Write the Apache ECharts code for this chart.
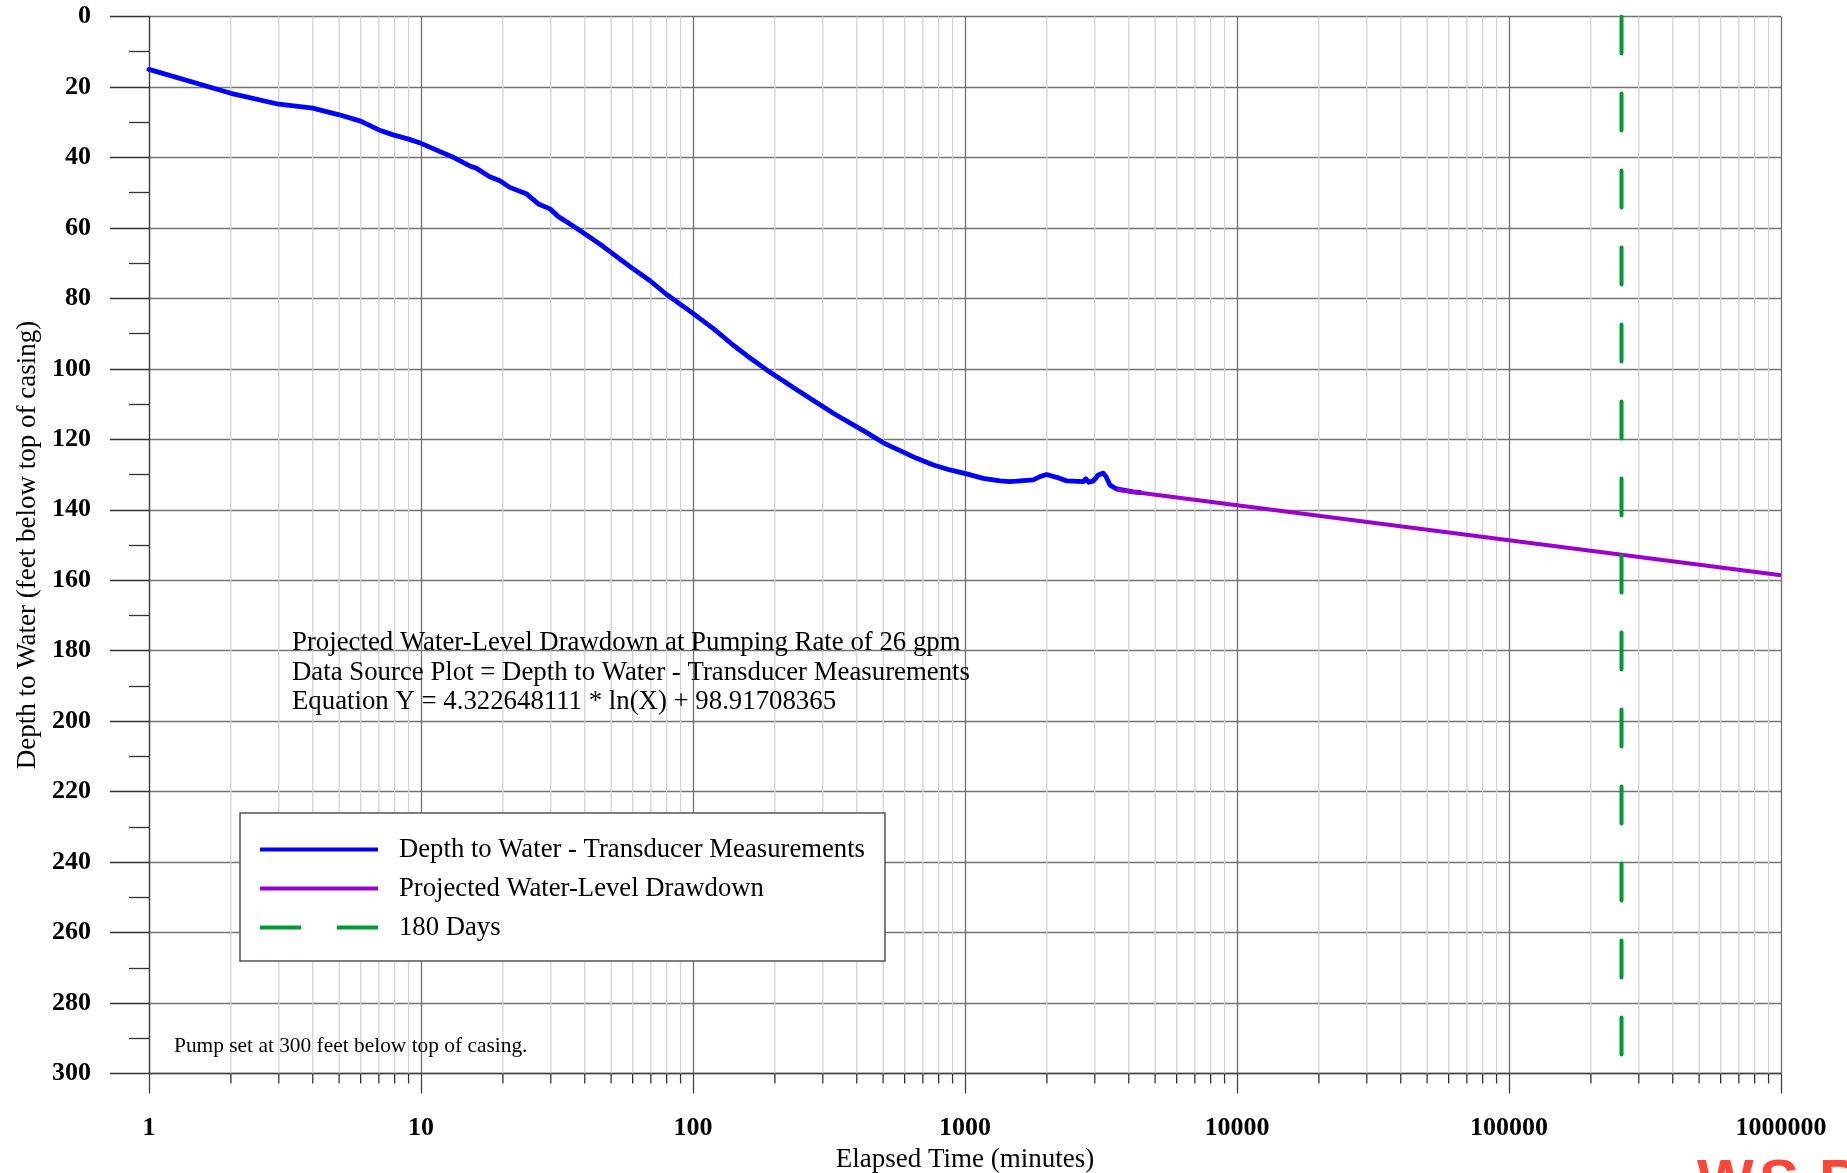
<!DOCTYPE html>
<html>
<head>
<meta charset="utf-8">
<title>Projected Water-Level Drawdown</title>
<script src="https://cdn.jsdelivr.net/npm/echarts@6/dist/echarts.min.js"></script>
<style>
  html, body { margin: 0; padding: 0; background: #fff; }
  #chart { width: 1847px; height: 1173px; }
</style>
</head>
<body>
<div id="chart"></div>
<script>
// Transducer record: elapsed time (minutes) and depth to water (feet below top of casing)
const measuredTime = [1, 2, 3, 4, 5, 6, 7, 7.9, 9, 10, 13, 15.1, 16, 17.9, 19.5, 21.2, 24.5, 27, 29.8, 32, 35.3,
  39.5, 46.8, 58.7, 69.5, 80, 99.7, 118.8, 140.7, 157.5, 186.6, 247, 328, 435, 501, 577, 664, 765, 881, 1014,
  1167, 1345, 1463, 1549, 1783, 1887, 1995, 2173, 2365, 2722, 2780, 2850, 2964, 3092, 3224, 3300, 3413, 3610,
  3662, 4157, 4397];
const measuredDepth = [15.0, 21.8, 24.9, 26.0, 27.9, 29.7, 32.2, 33.6, 34.8, 36.0, 39.8, 42.4, 43.1, 45.5, 46.6,
  48.5, 50.4, 53.2, 54.6, 56.8, 58.9, 61.4, 65.3, 71.0, 75.0, 78.9, 84.2, 88.6, 93.3, 96.2, 100.3, 106.5, 112.6,
  118.1, 121.0, 123.2, 125.4, 127.3, 128.7, 129.8, 131.1, 131.8, 132.0, 131.9, 131.5, 130.6, 130.0, 130.8, 131.8,
  132.0, 131.2, 132.2, 131.8, 130.1, 129.6, 130.6, 133.0, 134.1, 133.9, 134.9, 135.1];

// Projection from the fitted log trend (end points of the straight segment on the log axis)
const projectedTime = [3610, 1000000];
const projectedDepth = [134.3, 158.6];

// 180 days expressed in minutes
const marker180Time = [259200, 259200];
const marker180Depth = [0, 300];

const timeTickLabels = ['1', '10', '100', '1000', '10000', '100000', '1000000'];
const depthTickLabels = ['0', '20', '40', '60', '80', '100', '120', '140', '160', '180', '200', '220', '240',
  '260', '280', '300'];

const seriesNames = ['Depth to Water - Transducer Measurements', 'Projected Water-Level Drawdown', '180 Days'];

const noteLines = [
  'Projected Water-Level Drawdown at Pumping Rate of 26 gpm',
  'Data Source Plot = Depth to Water - Transducer Measurements',
  'Equation Y = 4.322648111 * ln(X) + 98.91708365'
];
const pumpNote = 'Pump set at 300 feet below top of casing.';

// intermediate log-cycle lines (2..9 within every decade)
const minorTimes = [];
for (let d = 0; d < 6; d++) {
  for (let m = 2; m <= 9; m++) minorTimes.push([m * Math.pow(10, d), 0]);
}

const zip = (xs, ys) => xs.map((x, i) => [x, ys[i]]);

const SERIF = 'Liberation Serif';

// legend swatches: solid bar and two-dash bar
const SOLID_ICON = 'path://M0,0H118V4H0Z';
const DASH_ICON = 'path://M0,0H41V4H0Z M77,0H118V4H77Z';

const chart = echarts.init(document.getElementById('chart'), null, { renderer: 'canvas' });

chart.setOption({
  backgroundColor: '#ffffff',
  animation: false,
  grid: { left: 149, right: 66, top: 16.5, bottom: 99.5, containLabel: false, outerBoundsMode: 'none' },
  xAxis: {
    type: 'log',
    logBase: 10,
    min: 1,
    max: 1000000,
    splitNumber: 6,
    name: 'Elapsed Time (minutes)',
    nameLocation: 'middle',
    nameGap: 67.5,
    nameTextStyle: { fontFamily: SERIF, fontSize: 27, color: '#000' },
    axisLine: { show: true, onZero: false, lineStyle: { color: '#444', width: 1.3 } },
    axisTick: { show: true, inside: false, length: 20, lineStyle: { color: '#444', width: 1.3 } },
    axisLabel: {
      margin: 42, fontFamily: SERIF, fontWeight: 'bold', fontSize: 26, color: '#000',
      formatter: (v, i) => timeTickLabels[i]
    },
    splitLine: { show: true, lineStyle: { color: '#737373', width: 1.3 } },
    minorTick: { show: false },
    minorSplitLine: { show: false }
  },
  yAxis: {
    type: 'value',
    inverse: true,
    min: 0,
    max: 300,
    interval: 20,
    name: 'Depth to Water (feet below top of casing)',
    nameLocation: 'middle',
    nameGap: 108,
    nameTextStyle: { fontFamily: SERIF, fontSize: 27, color: '#000' },
    axisLine: { show: true, onZero: false, lineStyle: { color: '#444', width: 1.3 } },
    axisTick: { show: true, inside: false, length: 39, lineStyle: { color: '#333', width: 1.3 } },
    minorTick: { show: true, splitNumber: 2, length: 20, lineStyle: { color: '#333', width: 1.3 } },
    minorSplitLine: { show: false },
    axisLabel: {
      margin: 58, fontFamily: SERIF, fontWeight: 'bold', fontSize: 26, color: '#000',
      formatter: (v, i) => depthTickLabels[i]
    },
    splitLine: { show: true, lineStyle: { color: '#737373', width: 1.3 } }
  },
  legend: {
    orient: 'vertical',
    left: 240,
    top: 813,
    padding: [23, 20, 20, 20],
    itemGap: 12,
    itemWidth: 118,
    itemHeight: 4,
    backgroundColor: '#ffffff',
    borderColor: '#555',
    borderWidth: 1.5,
    borderRadius: 0,
    selectedMode: false,
    textStyle: { fontFamily: SERIF, fontSize: 26.7, color: '#000', padding: [0, 0, 0, 16] },
    data: [
      { name: seriesNames[0], icon: SOLID_ICON },
      { name: seriesNames[1], icon: SOLID_ICON },
      { name: seriesNames[2], icon: DASH_ICON }
    ]
  },
  series: [
    {
      type: 'custom',
      name: 'minor-grid',
      silent: true,
      z: 1,
      clip: false,
      data: minorTimes,
      renderItem: (params, api) => {
        const v = api.value(0);
        const top = api.coord([v, 0]);
        const bot = api.coord([v, 300]);
        return {
          type: 'group',
          children: [
            { type: 'line', shape: { x1: top[0], y1: top[1], x2: bot[0], y2: bot[1] },
              style: { stroke: '#d3d3d3', lineWidth: 1.3 } },
            { type: 'line', shape: { x1: bot[0], y1: bot[1], x2: bot[0], y2: bot[1] + 10 },
              style: { stroke: '#333', lineWidth: 1.3 } }
          ]
        };
      }
    },
    {
      name: seriesNames[0],
      type: 'line',
      data: zip(measuredTime, measuredDepth),
      symbol: 'none',
      smooth: false,
      z: 3,
      lineStyle: { color: '#0000ff', width: 4.8, cap: 'round', join: 'round' },
      itemStyle: { color: '#0000ff' }
    },
    {
      name: seriesNames[1],
      type: 'line',
      data: zip(projectedTime, projectedDepth),
      symbol: 'none',
      z: 4,
      lineStyle: { color: '#9900cc', width: 4, cap: 'butt' },
      itemStyle: { color: '#9900cc' }
    },
    {
      name: seriesNames[2],
      type: 'line',
      data: zip(marker180Time, marker180Depth),
      symbol: 'none',
      z: 5,
      lineStyle: { color: '#009933', width: 4, type: [37, 40], cap: 'round' },
      itemStyle: { color: '#009933' }
    }
  ],
  graphic: [
    {
      type: 'text',
      left: 292,
      top: 628.5,
      z: 10,
      style: {
        text: noteLines.join('\n'),
        fontFamily: SERIF,
        fontSize: 26.8,
        lineHeight: 29.5,
        fill: '#000'
      }
    },
    {
      type: 'text',
      left: 174,
      top: 1036,
      z: 10,
      style: { text: pumpNote, fontFamily: SERIF, fontSize: 21.4, fill: '#000' }
    },
    {
      type: 'group',
      left: 1697,
      top: 1154,
      children: [
        { type: 'text', x: 0, y: 0, style: { text: 'W', fontFamily: 'Liberation Sans', fontWeight: 'bold', fontSize: 60, fill: '#ff4438' } },
        { type: 'text', x: 62, y: 0, style: { text: 'S', fontFamily: 'Liberation Sans', fontWeight: 'bold', fontSize: 60, fill: '#ff4438' } },
        { type: 'text', x: 122, y: 0, style: { text: 'P', fontFamily: 'Liberation Sans', fontWeight: 'bold', fontSize: 60, fill: '#ff4438' } }
      ]
    }
  ]
});
</script>
</body>
</html>
